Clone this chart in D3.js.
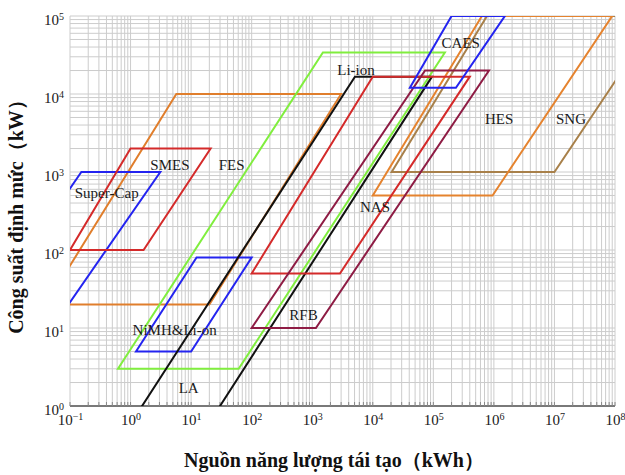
<!DOCTYPE html>
<html>
<head>
<meta charset="utf-8">
<style>
    body { margin: 0; background: #fff; }
    .grid line { stroke: #cccccc; stroke-width: 1; }
    .shape { fill: none; stroke-width: 2; stroke-linejoin: miter; }
    .lbl { font-family: "Liberation Serif", "Times New Roman", serif; font-size: 15px; fill: #1a1a1a; }
    .tick text { font-family: "Liberation Serif", "Times New Roman", serif; font-size: 15px; fill: #1a1a1a; }
    .title { font-family: "Liberation Serif", "Times New Roman", serif; font-size: 20px; font-weight: bold; fill: #111; }
</style>
<script src="https://d3js.org/d3.v7.min.js"></script>
</head>
<body>
<svg width="625" height="475"></svg>
<script>

// technologies, drawn in this order
var techs = ["SNG", "HES", "Orange", "Super-Cap", "SMES", "FES", "NiMH", "Black", "NAS", "RFB", "CAES"];

// corners: top-left, top-right, bottom-right, bottom-left
var energyKWh = [
    [7.7e5, 5.3e8, 1.0e7, 2.05e4],     // SNG
    [6.35e5, 9.0e7, 9.5e5, 1.0e4],     // HES
    [5.7, 3000, 20, 0.04],             // orange
    [0.154, 3.1, 0.094, 0.0047],       // Super-Cap
    [1.0, 21, 1.64, 0.1],              // SMES
    [1500, 1.55e5, 61, 0.62],          // green
    [12.3, 100, 10, 1.23],             // NiMH&Li-on
    [5080, 9.5e4, 16.9, 0.87],         // black
    [1.0e4, 4.0e5, 2870, 100],         // NAS
    [7.3e4, 8.3e5, 1150, 100],         // RFB
    [2.0e5, 1.52e6, 2.36e5, 4.1e4]     // CAES
];
var powerKW = [
    [1e5, 1e5, 1000, 1000],
    [1e5, 1e5, 500, 500],
    [1e4, 1e4, 20, 20],
    [1000, 1000, 20, 20],
    [2000, 2000, 100, 100],
    [3.4e4, 3.4e4, 3, 3],
    [80, 80, 5, 5],
    [1.67e4, 1.67e4, 0.5, 0.5],
    [1.67e4, 1.67e4, 50, 50],
    [2e4, 2e4, 10, 10],
    [1e5, 1e5, 1.2e4, 1.2e4]
];

// labels (left edge, vertical centre)
var labelText = ["Super-Cap", "SMES", "FES", "Li-ion", "CAES", "HES", "SNG", "NAS", "RFB", "NiMH&Li-on", "LA"];
var labelE = [0.12, 2.12, 28.5, 2590, 1.37e5, 7.13e5, 1.06e7, 6150, 418, 1.08, 6.24];
var labelP = [538, 1230, 1230, 2.03e4, 4.6e4, 4780, 4780, 359, 14.7, 9.6, 1.69];

var xDecades = [-1, 0, 1, 2, 3, 4, 5, 6, 7, 8];
var yDecades = [0, 1, 2, 3, 4, 5];

var colorOf = {
    "SNG": "#a8804a", "HES": "#e5832e", "Orange": "#e07e2c", "Super-Cap": "#2424f0",
    "SMES": "#d42a2a", "FES": "#80ee3e", "NiMH": "#2424f0", "Black": "#111111",
    "NAS": "#d42a2a", "RFB": "#8e1c44", "CAES": "#2424f0"
};

var svg = d3.select("svg"),
    margin = {top: 16, right: 10, bottom: 69, left: 70},
    width = +svg.attr("width") - margin.left - margin.right,
    height = +svg.attr("height") - margin.top - margin.bottom;

var x = d3.scaleLog().domain([0.1, 1e8]).range([0, width]),
    y = d3.scaleLog().domain([1, 1e5]).range([height, 0]);

var g = svg.append("g")
    .attr("transform", "translate(" + margin.left + "," + margin.top + ")");

svg.append("defs").append("clipPath").attr("id", "plot")
  .append("rect").attr("width", width).attr("height", height);

// minor log grid
var xGrid = [], yGrid = [];
xDecades.forEach(function(d) {
    for (var k = 1; k < 10; k++) { if (d < 8 || k == 1) xGrid.push(k * Math.pow(10, d)); }
});
yDecades.forEach(function(d) {
    for (var k = 1; k < 10; k++) { if (d < 5 || k == 1) yGrid.push(k * Math.pow(10, d)); }
});

var grid = g.append("g").attr("class", "grid");
grid.selectAll(".vx").data(xGrid).enter().append("line")
    .attr("x1", function(d) { return x(d); }).attr("x2", function(d) { return x(d); })
    .attr("y1", 0).attr("y2", height);
grid.selectAll(".hy").data(yGrid).enter().append("line")
    .attr("y1", function(d) { return y(d); }).attr("y2", function(d) { return y(d); })
    .attr("x1", 0).attr("x2", width);

// bottom axis line with small inner ticks
g.append("line").attr("x1", 0).attr("x2", width).attr("y1", height).attr("y2", height)
    .attr("stroke", "#555").attr("stroke-width", 1.5);
g.selectAll(".bt").data(xGrid).enter().append("line")
    .attr("x1", function(d) { return x(d); }).attr("x2", function(d) { return x(d); })
    .attr("y1", height).attr("y2", height - 4)
    .attr("stroke", "#888");

// parallelograms
var line = d3.line().x(function(d) { return x(d[0]); }).y(function(d) { return y(d[1]); });
var shapes = g.append("g").attr("clip-path", "url(#plot)");
techs.forEach(function(t, i) {
    var pts = energyKWh[i].map(function(e, j) { return [e, powerKW[i][j]]; });
    shapes.append("path")
        .attr("class", "shape")
        .attr("stroke", colorOf[t])
        .attr("d", line(pts) + "Z");
});

// labels
g.selectAll(".lbl").data(labelText).enter().append("text")
    .attr("class", "lbl")
    .attr("x", function(d, i) { return x(labelE[i]); })
    .attr("y", function(d, i) { return y(labelP[i]); })
    .attr("dy", "0.35em")
    .text(function(d) { return d; });

// tick labels 10^n
function pow10(sel) {
    sel.selectAll(".tick text").each(function(d) {
        var n = Math.round(Math.log10(d));
        var t = d3.select(this).text("");
        t.append("tspan").text("10");
        t.append("tspan").attr("dy", "-0.45em").attr("font-size", "10px")
            .text(n < 0 ? "\u2212" + (-n) : n);
    });
}

var xAxis = g.append("g")
    .attr("transform", "translate(0," + height + ")")
    .call(d3.axisBottom(x).tickValues(xDecades.map(function(d) { return Math.pow(10, d); })).tickSize(0).tickPadding(8))
    .call(pow10);
xAxis.select(".domain").remove();

var yAxis = g.append("g")
    .call(d3.axisLeft(y).tickValues(yDecades.map(function(d) { return Math.pow(10, d); })).tickSize(0).tickPadding(6))
    .call(pow10);
yAxis.select(".domain").remove();
yAxis.selectAll(".tick text").attr("dy", "0.55em");

// axis titles
svg.append("text").attr("class", "title")
    .attr("x", 334).attr("y", 467)
    .attr("text-anchor", "middle")
    .text("Nguồn năng lượng tái tạo（kWh）");

svg.append("text").attr("class", "title")
    .attr("transform", "translate(23,212) rotate(-90)")
    .attr("text-anchor", "middle")
    .text("Công suất định mức（kW）");

</script>
</body>
</html>
